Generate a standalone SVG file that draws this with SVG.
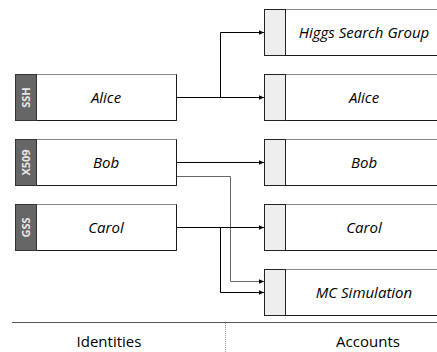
<svg xmlns="http://www.w3.org/2000/svg" width="437" height="352" viewBox="0 0 437 352">
<style>
.box{fill:#fff;stroke:#888;stroke-width:1}
.edge{fill:none;stroke:#1a1a1a;stroke-width:1}
.ltab{fill:#666;stroke:#333;stroke-width:1}
.rtab{fill:#eeeeee;stroke:#222;stroke-width:1}
.lbl{font-family:"Open Sans","Noto Sans",sans-serif;font-style:italic;font-size:15px;fill:#000;text-anchor:middle}
.tab{font-family:"Open Sans","Noto Sans",sans-serif;font-weight:bold;font-size:11px;fill:#e6e6e6;text-anchor:middle}
.foot{font-family:"Open Sans","Noto Sans",sans-serif;font-size:15px;fill:#000;text-anchor:middle}
.conn{fill:none;stroke:#000;stroke-width:1}
.conng{fill:none;stroke:#666;stroke-width:1}
</style>
<defs>
<marker id="ah" markerWidth="6" markerHeight="6" refX="5" refY="3" orient="auto" markerUnits="userSpaceOnUse">
<path d="M0,0.8 L5,3 L0,5.2 Z" fill="#000"/>
</marker>
</defs>
<g id="connectors">
<path class="conng" d="M176.5,176.5 H230.5 V281.5 H264" marker-end="url(#ah)"/>
<path class="conn" d="M176.5,97.5 H264" marker-end="url(#ah)"/>
<path class="conn" d="M220.5,97.5 V32.5 H264" marker-end="url(#ah)"/>
<path class="conn" d="M176.5,162.5 H264" marker-end="url(#ah)"/>
<path class="conn" d="M176.5,227.5 H264" marker-end="url(#ah)"/>
<path class="conn" d="M220.5,227.5 V292.5 H264" marker-end="url(#ah)"/>
</g>
<g id="id-ssh">
<rect class="box" x="15.5" y="74.5" width="161" height="46"/>
<path class="edge" d="M176.5,74.5 V120.5 H15.5"/>
<rect class="ltab" x="15.5" y="74.5" width="21" height="46"/>
<text class="tab" transform="translate(29.8,97.5) rotate(-90)">SSH</text>
<text class="lbl" x="106" y="103">Alice</text>
</g>
<g id="id-x509">
<rect class="box" x="15.5" y="139.5" width="161" height="46"/>
<path class="edge" d="M176.5,139.5 V185.5 H15.5"/>
<rect class="ltab" x="15.5" y="139.5" width="21" height="46"/>
<text class="tab" transform="translate(29.8,162.5) rotate(-90)">X509</text>
<text class="lbl" x="106" y="168">Bob</text>
</g>
<g id="id-gss">
<rect class="box" x="15.5" y="204.5" width="161" height="46"/>
<path class="edge" d="M176.5,204.5 V250.5 H15.5"/>
<rect class="ltab" x="15.5" y="204.5" width="21" height="46"/>
<text class="tab" transform="translate(29.8,227.5) rotate(-90)">GSS</text>
<text class="lbl" x="106" y="233">Carol</text>
</g>
<g id="acc-higgs">
<rect class="box" x="264.5" y="9.5" width="180" height="46"/>
<path class="edge" d="M264.5,55.5 H445"/>
<rect class="rtab" x="264.5" y="9.5" width="21" height="46"/>
<text class="lbl" x="364" y="38">Higgs Search Group</text>
</g>
<g id="acc-alice">
<rect class="box" x="264.5" y="74.5" width="180" height="46"/>
<path class="edge" d="M264.5,120.5 H445"/>
<rect class="rtab" x="264.5" y="74.5" width="21" height="46"/>
<text class="lbl" x="364" y="103">Alice</text>
</g>
<g id="acc-bob">
<rect class="box" x="264.5" y="139.5" width="180" height="46"/>
<path class="edge" d="M264.5,185.5 H445"/>
<rect class="rtab" x="264.5" y="139.5" width="21" height="46"/>
<text class="lbl" x="364" y="168">Bob</text>
</g>
<g id="acc-carol">
<rect class="box" x="264.5" y="204.5" width="180" height="46"/>
<path class="edge" d="M264.5,250.5 H445"/>
<rect class="rtab" x="264.5" y="204.5" width="21" height="46"/>
<text class="lbl" x="364" y="233">Carol</text>
</g>
<g id="acc-mc">
<rect class="box" x="264.5" y="269.5" width="180" height="46"/>
<path class="edge" d="M264.5,315.5 H445"/>
<rect class="rtab" x="264.5" y="269.5" width="21" height="46"/>
<text class="lbl" x="364" y="298">MC Simulation</text>
</g>
<g id="footer">
<line x1="12" y1="322.5" x2="437" y2="322.5" stroke="#555" stroke-width="1"/>
<line x1="225.5" y1="323" x2="225.5" y2="352" stroke="#999" stroke-width="1" stroke-dasharray="1,1"/>
<text class="foot" x="109" y="347">Identities</text>
<text class="foot" x="368" y="347">Accounts</text>
</g>
</svg>
